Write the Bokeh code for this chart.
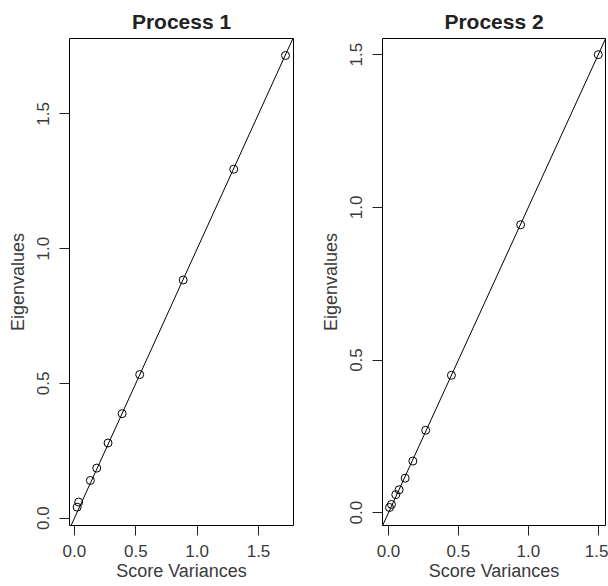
from bokeh.plotting import figure
from bokeh.layouts import row
from bokeh.models import FixedTicker, PrintfTickFormatter, Slope, Range1d
from bokeh.embed import file_html
from bokeh.resources import INLINE

# Process 1
p1_score_var = [0.022, 0.035, 0.130, 0.182, 0.274, 0.389, 0.532, 0.886, 1.298, 1.720]
p1_eigen = [0.041, 0.060, 0.140, 0.186, 0.279, 0.388, 0.533, 0.884, 1.295, 1.717]
# Process 2
p2_score_var = [0.007, 0.021, 0.052, 0.076, 0.119, 0.174, 0.266, 0.450, 0.945, 1.500]
p2_eigen = [0.017, 0.027, 0.059, 0.075, 0.113, 0.169, 0.270, 0.450, 0.943, 1.500]

tick_vals = [0.0, 0.5, 1.0, 1.5]
titles = ["Process 1", "Process 2"]
x_label = "Score Variances"
y_label = "Eigenvalues"

TXT = "#3a3a3a"
FONT = "Liberation Sans"


def make_panel(xs, ys, title, xr, yr, width, border_left, border_right):
    p = figure(width=width, height=586, output_backend="svg", toolbar_location=None,
               x_range=Range1d(*xr), y_range=Range1d(*yr),
               min_border_left=border_left, min_border_right=border_right,
               min_border_top=38, min_border_bottom=61, title=title)
    p.title.text_font = FONT
    p.title.text_font_size = "21px"
    p.title.text_font_style = "bold"
    p.title.text_color = "#222222"
    p.title.align = "center"
    p.title.standoff = 11
    p.xgrid.visible = False
    p.ygrid.visible = False
    p.outline_line_color = "black"
    p.outline_line_width = 1
    p.outline_line_alpha = 1
    p.background_fill_color = "white"
    p.border_fill_color = "white"
    for ax in (p.xaxis[0], p.yaxis[0]):
        ax.ticker = FixedTicker(ticks=tick_vals)
        ax.formatter = PrintfTickFormatter(format="%.1f")
        ax.axis_line_color = None
        ax.major_tick_line_color = "#222222"
        ax.major_tick_in = 0
        ax.major_tick_out = 10
        ax.minor_tick_line_color = None
        ax.major_label_text_font = FONT
        ax.major_label_text_font_size = "17px"
        ax.major_label_text_color = TXT
        ax.axis_label_text_font = FONT
        ax.axis_label_text_font_size = "18px"
        ax.axis_label_text_font_style = "normal"
        ax.axis_label_text_color = TXT
    p.xaxis.axis_label = x_label
    p.yaxis.axis_label = y_label
    p.xaxis.major_label_standoff = 9
    p.xaxis.axis_label_standoff = 1
    p.yaxis.major_label_orientation = "vertical"
    p.yaxis.major_label_standoff = 10
    p.yaxis.axis_label_standoff = 7
    p.add_layout(Slope(gradient=1, y_intercept=0, line_color="black", line_width=1))
    p.scatter(xs, ys, marker="circle", size=8, fill_color=None,
              line_color="black", line_width=1)
    return p


p1 = make_panel(p1_score_var, p1_eigen, titles[0], (-0.04, 1.785), (-0.027, 1.78), 310, 69, 17)
p2 = make_panel(p2_score_var, p2_eigen, titles[1], (-0.043, 1.552), (-0.042, 1.553), 298, 72, 3)

layout = row(p1, p2)
open("out.html", "w").write(file_html(layout, INLINE))
